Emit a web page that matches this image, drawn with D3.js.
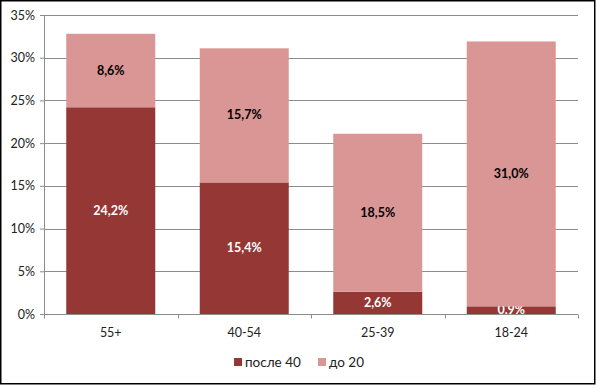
<!DOCTYPE html>
<html>
<head>
<meta charset="utf-8">
<script src="https://cdn.jsdelivr.net/npm/d3@7"></script>
<style>
  body { margin: 0; background: #fff; }
  svg text { font-family: Lato, "Open Sans", sans-serif; }
</style>
</head>
<body>
<div id="chartbox"></div>
<script>
var categories = ["55+", "40-54", "25-39", "18-24"];
var after40 = [24.2, 15.4, 2.6, 0.9];
var before20 = [8.6, 15.7, 18.5, 31.0];
var seriesNames = ["после 40", "до 20"];
var yTicks = [0, 5, 10, 15, 20, 25, 30, 35];
var colors = ["#953735", "#D99694"];

var W = 596, H = 385;
var margin = { top: 15, right: 18, bottom: 71, left: 44 },
    width = W - margin.left - margin.right,
    height = H - margin.top - margin.bottom;

var svg = d3.select('#chartbox').append('svg')
    .attr('width', W)
    .attr('height', H);

svg.append('rect')
    .attr('x', 0.75).attr('y', 0.75)
    .attr('width', W - 2).attr('height', H - 2)
    .attr('fill', '#fff')
    .attr('stroke', '#000')
    .attr('stroke-width', 1.5);

var g = svg.append('g')
    .attr('transform', 'translate(' + [margin.left, margin.top] + ')');

var x = d3.scaleBand().range([0, width]).domain(categories)
    .paddingInner(1 / 3).paddingOuter(1 / 6);
var y = d3.scaleLinear().range([height, 0]).domain([0, 35]);

// gridlines
g.append('g').selectAll('line')
    .data(yTicks.filter(d => d > 0))
    .enter().append('line')
    .attr('x1', 0).attr('x2', width)
    .attr('y1', d => Math.round(y(d)) + 0.5)
    .attr('y2', d => Math.round(y(d)) + 0.5)
    .attr('stroke', '#8c8c8c')
    .attr('stroke-width', 1);

var rows = categories.map((c, i) => ({ cat: c, a: after40[i], b: before20[i] }));
var stacked = d3.stack().keys(['a', 'b'])(rows);

var layers = g.selectAll('.layer')
    .data(stacked)
    .enter().append('g')
    .attr('fill', (d, i) => colors[i]);

layers.selectAll('rect')
    .data(d => d)
    .enter().append('rect')
    .attr('x', d => x(d.data.cat))
    .attr('y', d => y(d[1]))
    .attr('width', x.bandwidth())
    .attr('height', d => y(d[0]) - y(d[1]));

// value labels
layers.each(function (layer, li) {
  d3.select(this).selectAll('text')
    .data(layer)
    .enter().append('text')
    .attr('x', d => x(d.data.cat) + x.bandwidth() / 2)
    .attr('y', d => (y(d[0]) + y(d[1])) / 2 + 4)
    .attr('text-anchor', 'middle')
    .attr('font-size', 12.5)
    .attr('font-weight', 'bold')
    .attr('fill', li === 0 ? '#fff' : '#000')
    .text(d => (d[1] - d[0]).toFixed(1).replace('.', ',') + '%');
});

// y axis
var yAxis = g.append('g')
    .call(d3.axisLeft(y).tickValues(yTicks).tickSize(4).tickFormat(d => d + '%'));
yAxis.select('.domain').attr('stroke', '#8c8c8c').attr('d', 'M-4,0.5H0.5V' + (height + 0.5));
yAxis.selectAll('line').attr('stroke', '#8c8c8c');
yAxis.selectAll('text').attr('font-size', 12.5).attr('fill', '#222').attr('x', -9);

// x axis
var xAxis = g.append('g')
    .attr('transform', 'translate(0,' + (height + 0.5) + ')')
    .call(d3.axisBottom(x).tickSize(0).tickPadding(14));
xAxis.select('.domain').attr('stroke', '#8c8c8c').attr('d', 'M0,0H' + width);
xAxis.selectAll('text').attr('font-size', 12.5).attr('fill', '#222');
xAxis.selectAll('.sep')
    .data(d3.range(categories.length + 1))
    .enter().append('line')
    .attr('x1', i => Math.round(i * x.step()) + 0.5)
    .attr('x2', i => Math.round(i * x.step()) + 0.5)
    .attr('y1', 0).attr('y2', 4)
    .attr('stroke', '#8c8c8c');

// legend
var legend = svg.append('g').attr('transform', 'translate(234,363)');
var items = [{ name: seriesNames[0], c: colors[0], dx: 0 }, { name: seriesNames[1], c: colors[1], dx: 84 }];
var li = legend.selectAll('g').data(items).enter().append('g')
    .attr('transform', d => 'translate(' + d.dx + ',0)');
li.append('rect').attr('x', 0).attr('y', -5).attr('width', 8).attr('height', 8).attr('fill', d => d.c);
li.append('text').attr('x', 11).attr('y', 4).attr('font-size', 13.5).attr('fill', '#222').text(d => d.name);
</script>
</body>
</html>
